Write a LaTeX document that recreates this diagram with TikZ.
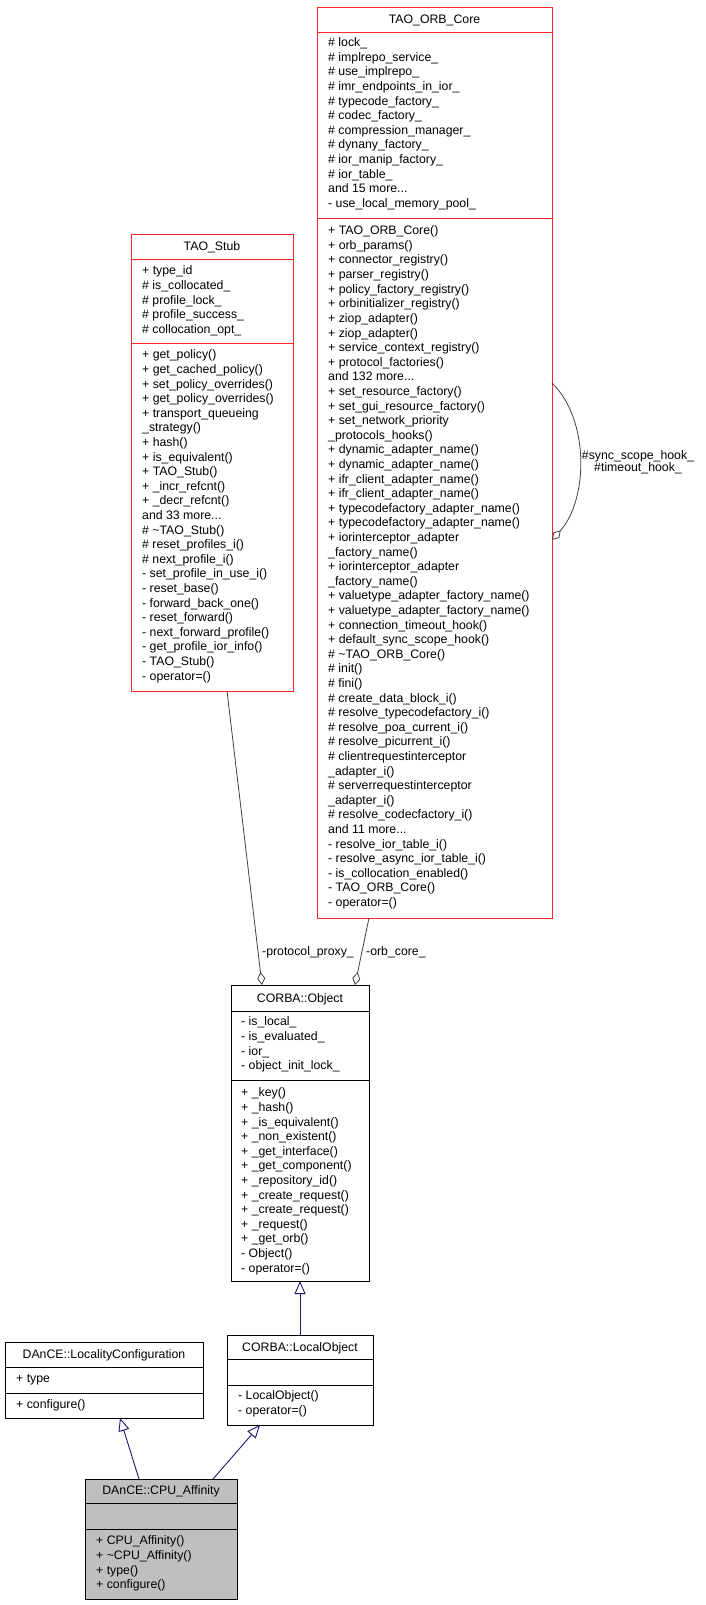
\documentclass[tikz,border=0pt]{standalone}
\usepackage{fontspec}
\setmainfont{Liberation Sans}
\usetikzlibrary{calc,arrows.meta}
\definecolor{edgeg}{RGB}{64,64,64}
\definecolor{inh}{RGB}{25,25,112}
\definecolor{boxred}{RGB}{255,40,40}
\tikzset{
  box/.style={draw,line width=0.9pt,inner sep=0pt,outer sep=0pt},
  txt/.style={anchor=base west,inner sep=0pt,font=\fontsize{12.3}{14}\selectfont},
  ttl/.style={anchor=base,inner sep=0pt,font=\fontsize{12.3}{14}\selectfont},
  lbl/.style={inner sep=0pt,font=\fontsize{12.3}{14}\selectfont},
  agg/.style={draw=edgeg,line width=0.8pt,{Diamond[open,length=13pt,width=8pt]}-},
  inhe/.style={draw=inh,line width=0.9pt,-{Triangle[open,length=13pt,width=11pt]}},
}
\newcommand\andmore[1]{and #1 more...}
\newcommand\mkbox[6]{\node[box,#6,minimum width=#4-#2,minimum height=#5-#3,anchor=north west] (#1) at (#2,#3) {};}
\newcommand\hdiv[4]{\draw[#4,line width=0.9pt] (#1,#3) -- (#2,#3);}
\newcommand\items[3]{\foreach \t [count=\i from 0] in {#3} {\node[txt] at (#1,{#2+3.8+14.6*\i}) {\t};}}
\begin{document}
\begin{tikzpicture}[x=1pt,y=-1pt]
\useasboundingbox (0,0) rectangle (705,1605);
% TAO_ORB_Core
\mkbox{orb}{317}{7}{552}{918}{draw=boxred}
\hdiv{317}{552}{32}{boxred}
\hdiv{317}{552}{218}{boxred}
\node[ttl] (orbt) at (434.5,23.3) {TAO\_ORB\_Core};
\items{328}{43}{\# lock\_,\# implrepo\_service\_,\# use\_implrepo\_,\# imr\_endpoints\_in\_ior\_,\# typecode\_factory\_,\# codec\_factory\_,\# compression\_manager\_,\# dynany\_factory\_,\# ior\_manip\_factory\_,\# ior\_table\_,\andmore{15},- use\_local\_memory\_pool\_}
\items{328}{231}{+ TAO\_ORB\_Core(),+ orb\_params(),+ connector\_registry(),+ parser\_registry(),+ policy\_factory\_registry(),+ orbinitializer\_registry(),+ ziop\_adapter(),+ ziop\_adapter(),+ service\_context\_registry(),+ protocol\_factories(),\andmore{132},+ set\_resource\_factory(),+ set\_gui\_resource\_factory(),+ set\_network\_priority,\_protocols\_hooks(),+ dynamic\_adapter\_name(),+ dynamic\_adapter\_name(),+ ifr\_client\_adapter\_name(),+ ifr\_client\_adapter\_name(),+ typecodefactory\_adapter\_name(),+ typecodefactory\_adapter\_name(),+ iorinterceptor\_adapter,\_factory\_name(),+ iorinterceptor\_adapter,\_factory\_name(),+ valuetype\_adapter\_factory\_name(),+ valuetype\_adapter\_factory\_name(),+ connection\_timeout\_hook(),+ default\_sync\_scope\_hook(),\# \textasciitilde TAO\_ORB\_Core(),\# init(),\# fini(),\# create\_data\_block\_i(),\# resolve\_typecodefactory\_i(),\# resolve\_poa\_current\_i(),\# resolve\_picurrent\_i(),\# clientrequestinterceptor,\_adapter\_i(),\# serverrequestinterceptor,\_adapter\_i(),\# resolve\_codecfactory\_i(),\andmore{11},- resolve\_ior\_table\_i(),- resolve\_async\_ior\_table\_i(),- is\_collocation\_enabled(),- TAO\_ORB\_Core(),- operator=()}
% TAO_Stub
\mkbox{stub}{131}{234}{293}{691}{draw=boxred}
\hdiv{131}{293}{259}{boxred}
\hdiv{131}{293}{343}{boxred}
\node[ttl] (stubt) at (212,250.8) {TAO\_Stub};
\items{142}{271}{+ type\_id,\# is\_collocated\_,\# profile\_lock\_,\# profile\_success\_,\# collocation\_opt\_}
\items{142}{355}{+ get\_policy(),+ get\_cached\_policy(),+ set\_policy\_overrides(),+ get\_policy\_overrides(),+ transport\_queueing,\_strategy(),+ hash(),+ is\_equivalent(),+ TAO\_Stub(),+ \_incr\_refcnt(),+ \_decr\_refcnt(),\andmore{33},\# \textasciitilde TAO\_Stub(),\# reset\_profiles\_i(),\# next\_profile\_i(),- set\_profile\_in\_use\_i(),- reset\_base(),- forward\_back\_one(),- reset\_forward(),- next\_forward\_profile(),- get\_profile\_ior\_info(),- TAO\_Stub(),- operator=()}
% CORBA::Object
\mkbox{obj}{231}{985}{369}{1281}{draw=black}
\hdiv{231}{369}{1011}{black}
\hdiv{231}{369}{1080}{black}
\node[ttl] (objt) at (300,1002.3) {CORBA::Object};
\items{241}{1022}{- is\_local\_,- is\_evaluated\_,- ior\_,- object\_init\_lock\_}
\items{241}{1093}{+ \_key(),+ \_hash(),+ \_is\_equivalent(),+ \_non\_existent(),+ \_get\_interface(),+ \_get\_component(),+ \_repository\_id(),+ \_create\_request(),+ \_create\_request(),+ \_request(),+ \_get\_orb(),- Object(),- operator=()}
% CORBA::LocalObject
\mkbox{lobj}{227}{1335}{373}{1425}{draw=black}
\hdiv{227}{373}{1359}{black}
\hdiv{227}{373}{1385}{black}
\node[ttl] (lobjt) at (300,1351.3) {CORBA::LocalObject};
\items{238}{1396}{- LocalObject(),- operator=()}
% DAnCE::LocalityConfiguration
\mkbox{loc}{5}{1342}{203}{1418}{draw=black}
\hdiv{5}{203}{1367}{black}
\hdiv{5}{203}{1393}{black}
\node[ttl] (loct) at (104,1358.3) {DAnCE::LocalityConfiguration};
\items{16}{1379}{+ type}
\items{16}{1405}{+ configure()}
% DAnCE::CPU_Affinity
\mkbox{cpu}{85}{1479}{237}{1599}{draw=black,fill={rgb,255:red,191;green,191;blue,191}}
\hdiv{85}{237}{1503}{black}
\hdiv{85}{237}{1529}{black}
\node[ttl] (cput) at (161,1494.8) {DAnCE::CPU\_Affinity};
\items{96}{1541}{+ CPU\_Affinity(),+ \textasciitilde CPU\_Affinity(),+ type(),+ configure()}
% aggregation connectors
\coordinate (pp1) at (262,985);
\coordinate (pp2) at (227,691);
\coordinate (oc1) at (355,985);
\coordinate (oc2) at (369,918);
\draw[agg] (pp1) -- (pp2);
\draw[agg] (oc1) -- (oc2);
\node[lbl,anchor=east] (ppl) at (354,952) {-protocol\_proxy\_};
\node[lbl,anchor=west] (ocl) at (366,952) {-orb\_core\_};
\coordinate (sl1) at (552,540);
\coordinate (sl2) at (552,383);
\draw[agg] (sl1) .. controls (588,500) and (590,420) .. (sl2);
\node[lbl,align=center] (sll) at (638,462) {\#sync\_scope\_hook\_\\[-2pt]\#timeout\_hook\_};
% inheritance
\coordinate (i1a) at (139,1479); \coordinate (i1b) at (120,1418);
\coordinate (i2a) at (213,1479); \coordinate (i2b) at (260,1425);
\coordinate (i3a) at (300,1335); \coordinate (i3b) at (300,1281);
\draw[inhe] (i1a) -- (i1b);
\draw[inhe] (i2a) -- (i2b);
\draw[inhe] (i3a) -- (i3b);
\end{tikzpicture}
\end{document}
